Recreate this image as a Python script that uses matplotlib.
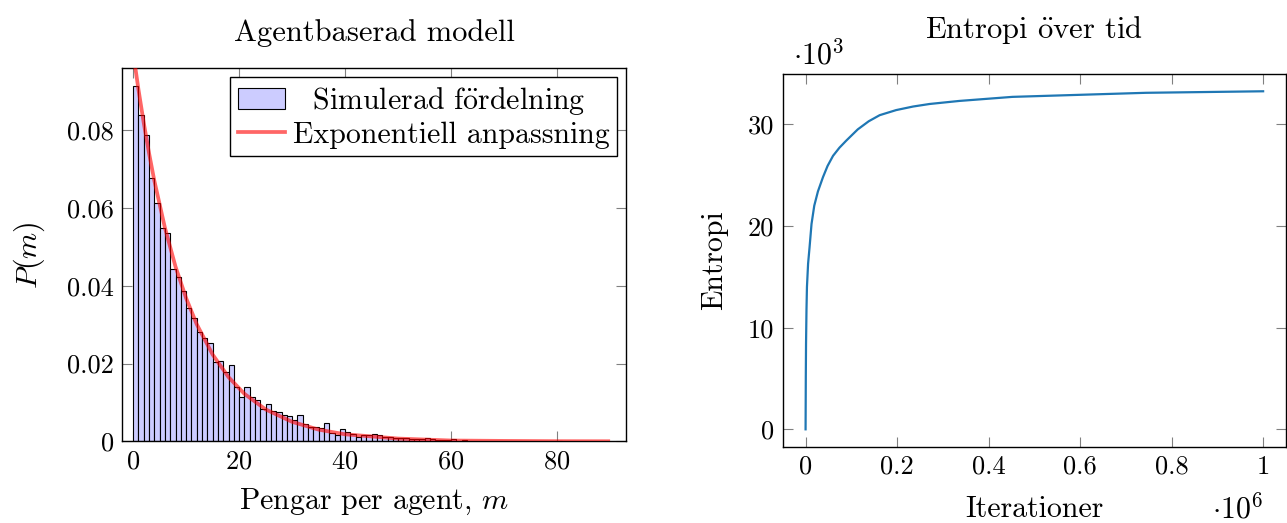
import numpy as np
import matplotlib
matplotlib.use("Agg")
import matplotlib.pyplot as plt
from matplotlib.patches import Patch
from matplotlib.lines import Line2D
from matplotlib.ticker import FuncFormatter

plt.rcParams['font.family'] = ['cmr10', 'DejaVu Serif']
plt.rcParams['mathtext.fontset'] = 'cm'
plt.rcParams['axes.formatter.use_mathtext'] = True
plt.rcParams['axes.unicode_minus'] = False

# histogram: left edge of each bin (width 1) and the density
bin_left = list(range(0, 81))
density = [0.0913, 0.0839, 0.0787, 0.0676, 0.0612, 0.0548, 0.0536, 0.0442, 0.0422, 0.0387,
           0.0342, 0.0318, 0.0282, 0.0265, 0.0254, 0.0203, 0.0206, 0.0179, 0.0196, 0.0139,
           0.0113, 0.0140, 0.0115, 0.0106, 0.0082, 0.0096, 0.0079, 0.0076, 0.0068, 0.0065,
           0.0055, 0.0068, 0.0044, 0.0038, 0.0036, 0.0033, 0.0046, 0.0021, 0.0016, 0.0032,
           0.0025, 0.0018, 0.0012, 0.0016, 0.0016, 0.0018, 0.0015, 0.0012, 0.0011, 0.0008,
           0.0009, 0.0008, 0.0006, 0.0005, 0.0007, 0.0008, 0.0005, 0.0004, 0.0003, 0.0004,
           0.0005, 0.0002, 0.0003, 0.0002, 0.0002, 0.0001, 0.0002, 0.0001, 0.0001, 0.0001,
           0.0002, 0.0001, 0.0, 0.0001, 0.0, 0.0001, 0.0002, 0.0001, 0.0, 0.0, 0.0001]

# exponential fit
fit_m = [0, 1, 2, 3, 4, 6, 8, 10, 12, 15, 18, 21, 25, 30, 35, 40, 50, 60, 70, 80, 90]
fit_p = [0.100, 0.0905, 0.0819, 0.0741, 0.0670, 0.0549, 0.0449, 0.0368, 0.0301, 0.0223,
         0.0165, 0.0122, 0.0082, 0.0050, 0.0030, 0.0018, 0.0007, 0.0002, 0.0001, 0.00003,
         0.00001]

# entropy over time
iterations = [0, 500, 1000, 2000, 3000, 5500, 8700, 13000, 19000, 27000, 38000, 48000,
              60000, 74000, 89000, 114000, 138000, 162000, 198000, 235000, 271000, 336000,
              452000, 598000, 744000, 1000000]
entropy = [0, 5200, 8400, 11800, 14000, 16300, 17900, 20200, 22000, 23400, 24800, 25900,
           26900, 27700, 28400, 29500, 30300, 30900, 31400, 31750, 32000, 32300, 32700,
           32900, 33100, 33250]

W, H = 1287, 523
fig = plt.figure(figsize=(W / 100, H / 100), dpi=100)
fs = 19      # tick labels
fl = 21.5    # axis labels, titles, legend

def style(ax):
    ax.tick_params(direction='in', top=True, right=True, length=7.5, width=0.8,
                   color='0.5', labelsize=fs, pad=6)
    for s in ax.spines.values():
        s.set_linewidth(1.0)

# left: histogram
ax1 = fig.add_axes([122 / W, 1 - 441.3 / H, (626 - 122) / W, (441.3 - 68.3) / H])
ax1.bar(bin_left, density, width=1, align='edge', color='#ccccff',
        edgecolor='black', linewidth=0.8, zorder=2)
ax1.plot(fit_m, fit_p, color='red', alpha=0.6, lw=2.7, zorder=3,
         solid_capstyle='butt')
ax1.set_xlim(-2.1, 93)
ax1.set_ylim(0, 0.0959)
ax1.set_xticks([0, 20, 40, 60, 80])
ax1.set_yticks([0, 0.02, 0.04, 0.06, 0.08])
ax1.yaxis.set_major_formatter(FuncFormatter(lambda v, p: '0' if v == 0 else f'{v:.2f}'))
style(ax1)
ax1.set_title('Agentbaserad modell', fontsize=fl + 0.5, pad=20)
ax1.set_xlabel('Pengar per agent, $m$', fontsize=fl, labelpad=10)
ax1.set_ylabel('$P(m)$', fontsize=fl, labelpad=14)
handles = [Patch(facecolor='#ccccff', edgecolor='black', linewidth=0.8),
           Line2D([], [], color='red', alpha=0.6, lw=2.7)]
labels = [r'$\hspace{0.75}$Simulerad f$\ddot{\mathrm{o}}$rdelning', 'Exponentiell anpassning']
leg = ax1.legend(handles, labels,
                 loc='upper right', fontsize=fl, fancybox=False, edgecolor='black',
                 framealpha=1, handlelength=1.6, handletextpad=0.25, labelspacing=0.15,
                 borderpad=0.25, borderaxespad=0.3)
leg.get_frame().set_linewidth(1.0)

# right: entropy
ax2 = fig.add_axes([782.7 / W, 1 - 446.7 / H, (1286 - 782.7) / W, (446.7 - 74.3) / H])
ax2.plot(iterations, entropy, color='#1f77b4', lw=1.6)
ax2.set_xlim(-50000, 1050000)
ax2.set_ylim(-1710, 34920)
ax2.set_xticks([0, 200000, 400000, 600000, 800000, 1000000])
ax2.set_yticks([0, 10000, 20000, 30000])
ax2.xaxis.set_major_formatter(FuncFormatter(lambda v, p: f'{v / 1e6:g}'))
ax2.yaxis.set_major_formatter(FuncFormatter(lambda v, p: f'{v / 1e3:g}'))
style(ax2)
ax2.set_title(r'Entropi $\ddot{\mathrm{o}}$ver tid', fontsize=fl + 0.5, pad=26)
ax2.set_xlabel('Iterationer', fontsize=fl, labelpad=12)
ax2.set_ylabel('Entropi', fontsize=fl, labelpad=14)
fig.text(818 / W, 1 - 55 / H, r'$\cdot 10^{3}$', fontsize=fl, ha='center', va='center')
fig.text(1238 / W, 1 - 509 / H, r'$\cdot 10^{6}$', fontsize=fl, ha='center', va='center')

fig.savefig('out.png', dpi=100)
